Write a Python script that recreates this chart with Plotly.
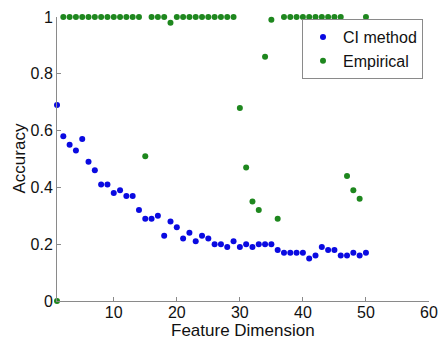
import plotly.graph_objects as go

dims = list(range(1, 51))
ci_method = [0.69, 0.58, 0.55, 0.53, 0.57, 0.49, 0.46, 0.41, 0.41, 0.38,
             0.39, 0.37, 0.37, 0.32, 0.29, 0.29, 0.30, 0.23, 0.28, 0.26,
             0.22, 0.24, 0.21, 0.23, 0.22, 0.20, 0.20, 0.19, 0.21, 0.19,
             0.20, 0.19, 0.20, 0.20, 0.20, 0.18, 0.17, 0.17, 0.17, 0.17,
             0.15, 0.16, 0.19, 0.18, 0.18, 0.16, 0.16, 0.17, 0.16, 0.17]
empirical = [0.00, 1.00, 1.00, 1.00, 1.00, 1.00, 1.00, 1.00, 1.00, 1.00,
             1.00, 1.00, 1.00, 1.00, 0.51, 1.00, 1.00, 1.00, 0.98, 1.00,
             1.00, 1.00, 1.00, 1.00, 1.00, 1.00, 1.00, 1.00, 1.00, 0.68,
             0.47, 0.35, 0.32, 0.86, 0.99, 0.29, 1.00, 1.00, 1.00, 1.00,
             1.00, 1.00, 1.00, 1.00, 1.00, 1.00, 0.44, 0.39, 0.36, 1.00]

y_ticks = [0, 0.2, 0.4, 0.6, 0.8, 1]
y_tick_labels = ["0", "0.2", "0.4", "0.6", "0.8", "1"]
x_ticks = [10, 20, 30, 40, 50, 60]

W, H = 438, 340
L, R, T, B = 57, 9, 17, 39
PW, PH = W - L - R, H - T - B

fig = go.Figure()
fig.add_trace(go.Scatter(x=dims, y=ci_method, mode="markers", name="CI method",
                         marker=dict(color="rgb(10,10,225)", size=6), cliponaxis=False))
fig.add_trace(go.Scatter(x=dims, y=empirical, mode="markers", name="Empirical",
                         marker=dict(color="rgb(30,135,30)", size=6), cliponaxis=False))

axis_common = dict(showgrid=False, zeroline=False, showline=True, linecolor="#8a8a8a",
                   linewidth=1, ticks="inside", ticklen=4, tickcolor="#8a8a8a",
                   tickfont=dict(size=16, color="#111"), mirror=False, automargin=False)

fig.update_layout(
    width=W, height=H,
    margin=dict(l=L, r=R, t=T, b=B),
    paper_bgcolor="white", plot_bgcolor="white",
    font=dict(family="Liberation Sans, Arial, sans-serif", size=16, color="#111"),
    xaxis=dict(range=[1, 60], tickvals=x_ticks, ticklabelstandoff=-3, **axis_common),
    yaxis=dict(range=[0, 1], tickvals=y_ticks, ticktext=y_tick_labels, **axis_common),
    legend=dict(x=(302 - L) / PW, y=1 - (19 - T) / PH, xanchor="left", yanchor="top",
                bordercolor="#8a8a8a", borderwidth=1, bgcolor="white",
                font=dict(size=16), itemwidth=30, tracegroupgap=0),
    showlegend=True,
    annotations=[
        dict(text="Feature Dimension", xref="paper", yref="paper",
             x=0.5, y=-(330.5 - (H - B)) / PH, xanchor="center", yanchor="middle",
             showarrow=False, font=dict(size=17)),
        dict(text="Accuracy", xref="paper", yref="paper",
             x=(18.5 - L) / PW, y=0.5, xanchor="center", yanchor="middle",
             textangle=-90, showarrow=False, font=dict(size=17)),
    ],
)

fig.write_html("out.html", config={"displayModeBar": False},
               post_script="document.body.style.margin='0';document.body.style.overflow='hidden';")
